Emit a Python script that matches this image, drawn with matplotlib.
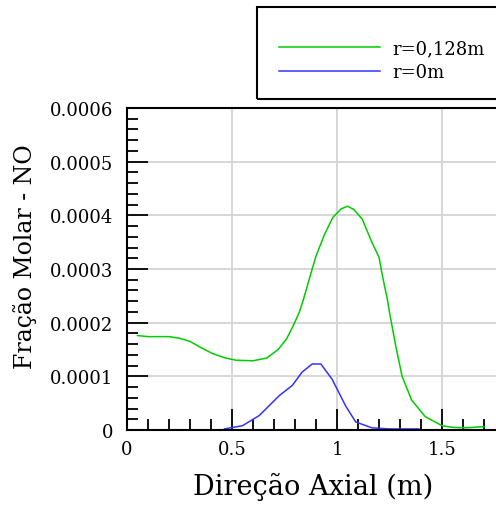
import matplotlib
matplotlib.use('Agg')
import matplotlib.pyplot as plt
from matplotlib.ticker import MultipleLocator, FixedLocator, FuncFormatter
from matplotlib.patches import Rectangle

# Perfil axial da fração molar de NO
x_r0128 = [0.05, 0.10, 0.20, 0.25, 0.30, 0.35, 0.41, 0.47, 0.52, 0.60, 0.665,
           0.72, 0.76, 0.79, 0.82, 0.84, 0.867, 0.90, 0.94, 0.98, 1.02, 1.05,
           1.08, 1.12, 1.167, 1.20, 1.215, 1.24, 1.25, 1.28, 1.31, 1.355, 1.42,
           1.50, 1.55, 1.61, 1.69, 1.70]
y_r0128 = [0.000176, 0.000174, 0.000174, 0.000171, 0.000165, 0.000154, 0.000142,
           0.000134, 0.000130, 0.000129, 0.000134, 0.000150, 0.000170, 0.000193,
           0.000219, 0.000243, 0.000280, 0.000324, 0.000364, 0.000396, 0.000412,
           0.000417, 0.000411, 0.000393, 0.000349, 0.000322, 0.000290, 0.000243,
           0.000219, 0.000156, 0.000100, 0.000056, 0.000025, 0.000008, 0.000005,
           0.000004, 0.000006, 0.000006]

x_r0 = [0.464, 0.55, 0.63, 0.725, 0.787, 0.834, 0.882, 0.923, 0.976, 1.041,
        1.089, 1.166, 1.25, 1.39]
y_r0 = [0.000002, 0.000008, 0.000027, 0.000064, 0.000083, 0.000108, 0.000123,
        0.000123, 0.000095, 0.000045, 0.000015, 0.000004, 0.000002, 0.000002]

rotulos = ['r=0,128m', 'r=0m']
cores = ['#00cc00', '#3333ff']
x_ticks = [0, 0.5, 1, 1.5]

plt.rcParams['font.family'] = ['DejaVu Serif']

fig = plt.figure(figsize=(4.96, 5.06), dpi=100)
W, H = 496, 506
# eixo posicionado em pixels; o lado direito fica fora da figura
ax = fig.add_axes([127 / W, (H - 431) / H, 420 / W, 322 / H])

l1, = ax.plot(x_r0128, y_r0128, color=cores[0], lw=1.1)
l2, = ax.plot(x_r0, y_r0, color=cores[1], lw=1.1)

ax.set_xlim(0, 2)
ax.set_ylim(0, 0.0006)
ax.xaxis.set_major_locator(FixedLocator(x_ticks))
ax.xaxis.set_minor_locator(MultipleLocator(0.1))
ax.yaxis.set_major_locator(MultipleLocator(0.0001))
ax.yaxis.set_minor_locator(MultipleLocator(0.00002))
ax.xaxis.set_major_formatter(FuncFormatter(lambda v, p: '0' if v == 0 else f'{v:g}'))
ax.yaxis.set_major_formatter(FuncFormatter(lambda v, p: '0' if abs(v) < 1e-12 else f'{v:.4f}'))

ax.grid(True, which='major', color='#d6d6d6', lw=1.4)
ax.set_axisbelow(True)
ax.tick_params(which='both', direction='in', top=False, right=False,
               width=1.3, labelsize=13, colors='black')
ax.tick_params(which='major', length=15)
ax.tick_params(which='minor', length=8)
ax.tick_params(axis='y', pad=10)
ax.tick_params(axis='x', pad=7)
for s in ax.spines.values():
    s.set_linewidth(1.5)

fig.text(313 / W, 1 - 487 / H, 'Direção Axial (m)', ha='center', va='center', fontsize=19.5)
fig.text(25 / W, 1 - 257 / H, 'Fração Molar - NO', ha='center', va='center',
         rotation=90, fontsize=17)

# caixa da legenda (passa da borda direita)
fig.patches.append(Rectangle((257 / W, 1 - 100 / H), 300 / W, 92 / H,
                             transform=fig.transFigure, fill=False,
                             edgecolor='black', lw=1.5))
fig.legend([l1, l2], rotulos, loc='upper left', frameon=False,
           bbox_to_anchor=(270 / W, 1 - 31 / H), borderpad=0,
           handlelength=5.6, handletextpad=0.65, labelspacing=0.35,
           fontsize=13)

fig.savefig('out.png', dpi=100)
